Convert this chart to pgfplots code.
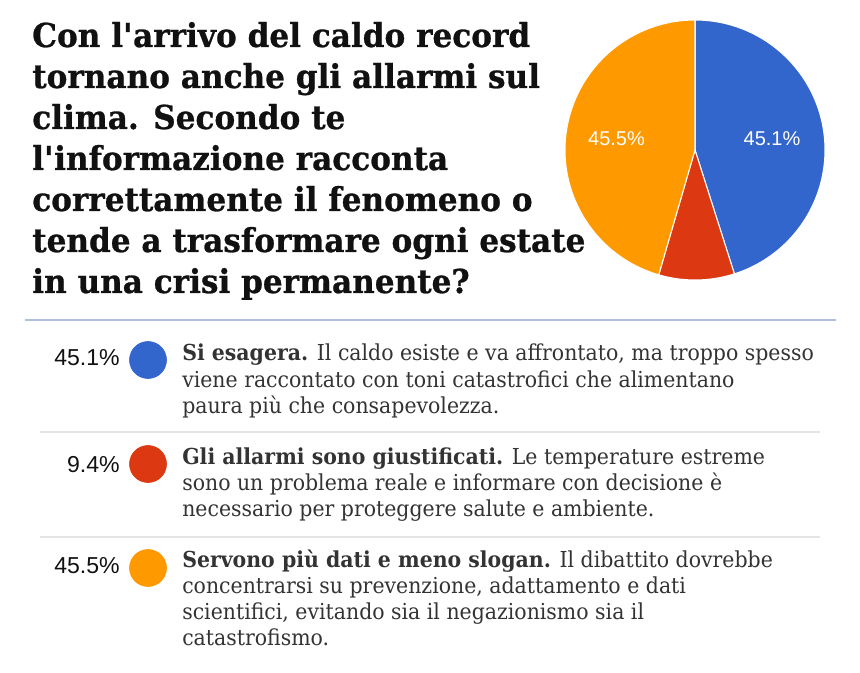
\documentclass[border=0pt]{standalone}
\usepackage{pgfplots}
\pgfplotsset{compat=1.18}
\usepackage{pgfplotstable}
\usepackage{fontspec}
\setmainfont{DejaVu Serif}[FakeStretch=0.93]
\newfontfamily\titlefont{DejaVu Serif}[FakeStretch=0.945, BoldFeatures={FakeBold=0.8}]
\newfontfamily\pctfont{Liberation Sans}
\definecolor{pblue}{HTML}{3366CC}
\definecolor{pred}{HTML}{DC3912}
\definecolor{porange}{HTML}{FF9900}
\definecolor{titlecol}{HTML}{111111}
\definecolor{bodycol}{HTML}{333333}
\definecolor{rulecol}{HTML}{B0BFDD}
\definecolor{sepcol}{HTML}{E4E4E4}

\pgfplotstableread{
idx value
0 45.1
1 9.4
2 45.5
}\piedata

\begin{document}
\begin{tikzpicture}
\path[use as bounding box] (0,0) rectangle (645pt,504pt);
\pgfplotstablegetelem{0}{value}\of\piedata \let\vA\pgfplotsretval
\pgfplotstablegetelem{1}{value}\of\piedata \let\vB\pgfplotsretval
\pgfplotstablegetelem{2}{value}\of\piedata \let\vC\pgfplotsretval
\pgfmathsetmacro\aZ{90}
\pgfmathsetmacro\aA{90-3.6*\vA}
\pgfmathsetmacro\aB{\aA-3.6*\vB}
\pgfmathsetmacro\aC{\aB-3.6*\vC}
\begin{axis}[
  at={(0,0)}, anchor=south west,
  width=645pt, height=504pt, scale only axis,
  xmin=0, xmax=860, ymin=0, ymax=672,
  hide axis, clip=false,
]
% pie (centre 695,150 px; radius 130 px = 97.5pt)
\fill[pblue, draw=white, line width=0.8pt] (axis cs:695,522) -- ++(\aZ:97.5pt) arc[start angle=\aZ, end angle=\aA, radius=97.5pt] -- cycle;
\fill[pred, draw=white, line width=0.8pt] (axis cs:695,522) -- ++(\aA:97.5pt) arc[start angle=\aA, end angle=\aB, radius=97.5pt] -- cycle;
\fill[porange, draw=white, line width=0.8pt] (axis cs:695,522) -- ++(\aB:97.5pt) arc[start angle=\aB, end angle=\aC, radius=97.5pt] -- cycle;
\node[anchor=base, inner sep=0, text=white, font=\pctfont\fontsize{15}{18}\selectfont] at (axis cs:772,526.3) {45.1\%};
\node[anchor=base, inner sep=0, text=white, font=\pctfont\fontsize{15}{18}\selectfont] at (axis cs:616.5,526.3) {45.5\%};

% title
\begin{scope}[every node/.style={anchor=base west, inner sep=0, text=titlecol, font=\titlefont\bfseries\fontsize{24.7}{30}\selectfont}]
\node at (axis cs:32,625) {Con l\textquotesingle arrivo del caldo record};
\node at (axis cs:32,584) {tornano anche gli allarmi sul};
\node at (axis cs:32,543) {clima. Secondo te};
\node at (axis cs:32,502) {l\textquotesingle informazione racconta};
\node at (axis cs:32,461) {correttamente il fenomeno o};
\node at (axis cs:32,420) {tende a trasformare ogni estate};
\node at (axis cs:32,379) {in una crisi permanente?};
\end{scope}

% rules
\draw[rulecol, line width=0.9pt] (axis cs:25,352) -- (axis cs:836,352);
\draw[sepcol, line width=0.9pt] (axis cs:40,240) -- (axis cs:820,240);
\draw[sepcol, line width=0.9pt] (axis cs:40,135) -- (axis cs:820,135);

% legend dots
\addplot[only marks, mark=*, mark size=13.9pt, mark options={draw=pblue, fill=pblue}] coordinates {(148,312)};
\addplot[only marks, mark=*, mark size=13.9pt, mark options={draw=pred, fill=pred}] coordinates {(148,208)};
\addplot[only marks, mark=*, mark size=13.9pt, mark options={draw=porange, fill=porange}] coordinates {(148,104)};

% legend percentages
\begin{scope}[every node/.style={anchor=base east, inner sep=0, text=titlecol, font=\pctfont\fontsize{17.3}{20}\selectfont}]
\node at (axis cs:120,306) {45.1\%};
\node at (axis cs:120,200) {9.4\%};
\node at (axis cs:120,99) {45.5\%};
\end{scope}

% legend texts
\begin{scope}[every node/.style={anchor=base west, inner sep=0, text=bodycol, font=\fontsize{16.5}{20}\selectfont}]
\node at (axis cs:182,311) {\textbf{Si esagera.} Il caldo esiste e va affrontato, ma troppo spesso};
\node at (axis cs:182,285) {viene raccontato con toni catastrofici che alimentano};
\node at (axis cs:182,259) {paura più che consapevolezza.};
\node at (axis cs:182,208) {\textbf{Gli allarmi sono giustificati.} Le temperature estreme};
\node at (axis cs:182,182) {sono un problema reale e informare con decisione è};
\node at (axis cs:182,156) {necessario per proteggere salute e ambiente.};
\node at (axis cs:182,105) {\textbf{Servono più dati e meno slogan.} Il dibattito dovrebbe};
\node at (axis cs:182,79) {concentrarsi su prevenzione, adattamento e dati};
\node at (axis cs:182,53) {scientifici, evitando sia il negazionismo sia il};
\node at (axis cs:182,27) {catastrofismo.};
\end{scope}
\end{axis}
\end{tikzpicture}
\end{document}
